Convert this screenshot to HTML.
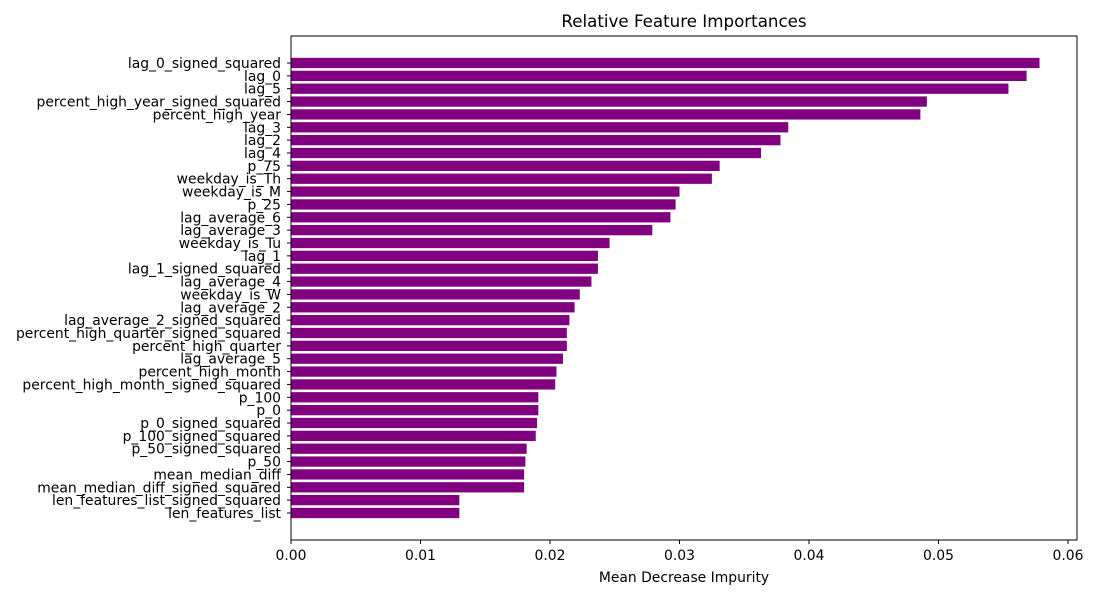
<!DOCTYPE html>
<html><head><meta charset="utf-8"><style>
body{margin:0;background:#fff;font-family:"DejaVu Sans","Liberation Sans",sans-serif}
</style></head><body>
<svg width="1100" height="600" xmlns="http://www.w3.org/2000/svg" font-family="DejaVu Sans, Liberation Sans, sans-serif">
<rect width="1100" height="600" fill="#fff"/>
<text x="684" y="27" text-anchor="middle" font-size="16.7">Relative Feature Importances</text>
<g id="bars"></g><g id="yt"></g><g id="xt"></g>
<rect x="291" y="36" width="786" height="504" fill="none" stroke="#000" stroke-width="1"/>
<text x="684" y="582" text-anchor="middle" font-size="13.9">Mean Decrease Impurity</text>
</svg>
<script>
const features=["lag_0_signed_squared","lag_0","lag_5","percent_high_year_signed_squared","percent_high_year","lag_3","lag_2","lag_4","p_75","weekday_is_Th","weekday_is_M","p_25","lag_average_6","lag_average_3","weekday_is_Tu","lag_1","lag_1_signed_squared","lag_average_4","weekday_is_W","lag_average_2","lag_average_2_signed_squared","percent_high_quarter_signed_squared","percent_high_quarter","lag_average_5","percent_high_month","percent_high_month_signed_squared","p_100","p_0","p_0_signed_squared","p_100_signed_squared","p_50_signed_squared","p_50","mean_median_diff","mean_median_diff_signed_squared","len_features_list_signed_squared","len_features_list"];
const importances=[0.0578,0.0568,0.0554,0.0491,0.0486,0.0384,0.0378,0.0363,0.0331,0.0325,0.0300,0.0297,0.0293,0.0279,0.0246,0.0237,0.0237,0.0232,0.0223,0.0219,0.0215,0.0213,0.0213,0.0210,0.0205,0.0204,0.0191,0.0191,0.0190,0.0189,0.0182,0.0181,0.0180,0.0180,0.0130,0.0130];
const xTicks=[0,0.01,0.02,0.03,0.04,0.05,0.06];
const xTickLabels=["0.00","0.01","0.02","0.03","0.04","0.05","0.06"];
const NS="http://www.w3.org/2000/svg";
const x=v=>291+v*12950;
const step=12.857;
const y=i=>63+i*step;
const bh=step*0.8;
function mk(t,a,p){const e=document.createElementNS(NS,t);for(const k in a)e.setAttribute(k,a[k]);p.appendChild(e);return e;}
const gb=document.getElementById('bars'),gy=document.getElementById('yt'),gx=document.getElementById('xt');
features.forEach((f,i)=>{
 const r=mk('rect',{x:x(0),y:y(i)-bh/2,width:x(importances[i])-x(0),height:bh,fill:'#800080'},gb);
 
 
 const l=mk('line',{x1:287,x2:291,y1:y(i),y2:y(i),stroke:'#000'},gy);
 
 
 const t=mk('text',{x:281,y:y(i)+5,'text-anchor':'end','font-size':13.9},gy);
 t.textContent=f;
 
 
});
xTicks.forEach((v,i)=>{
 const l=mk('line',{x1:x(v),x2:x(v),y1:540,y2:544,stroke:'#000'},gx);
 
 
 const t=mk('text',{x:x(v),y:560,'text-anchor':'middle','font-size':13.9},gx);
 t.textContent=xTickLabels[i];
 
 
});
</script>
</body></html>
